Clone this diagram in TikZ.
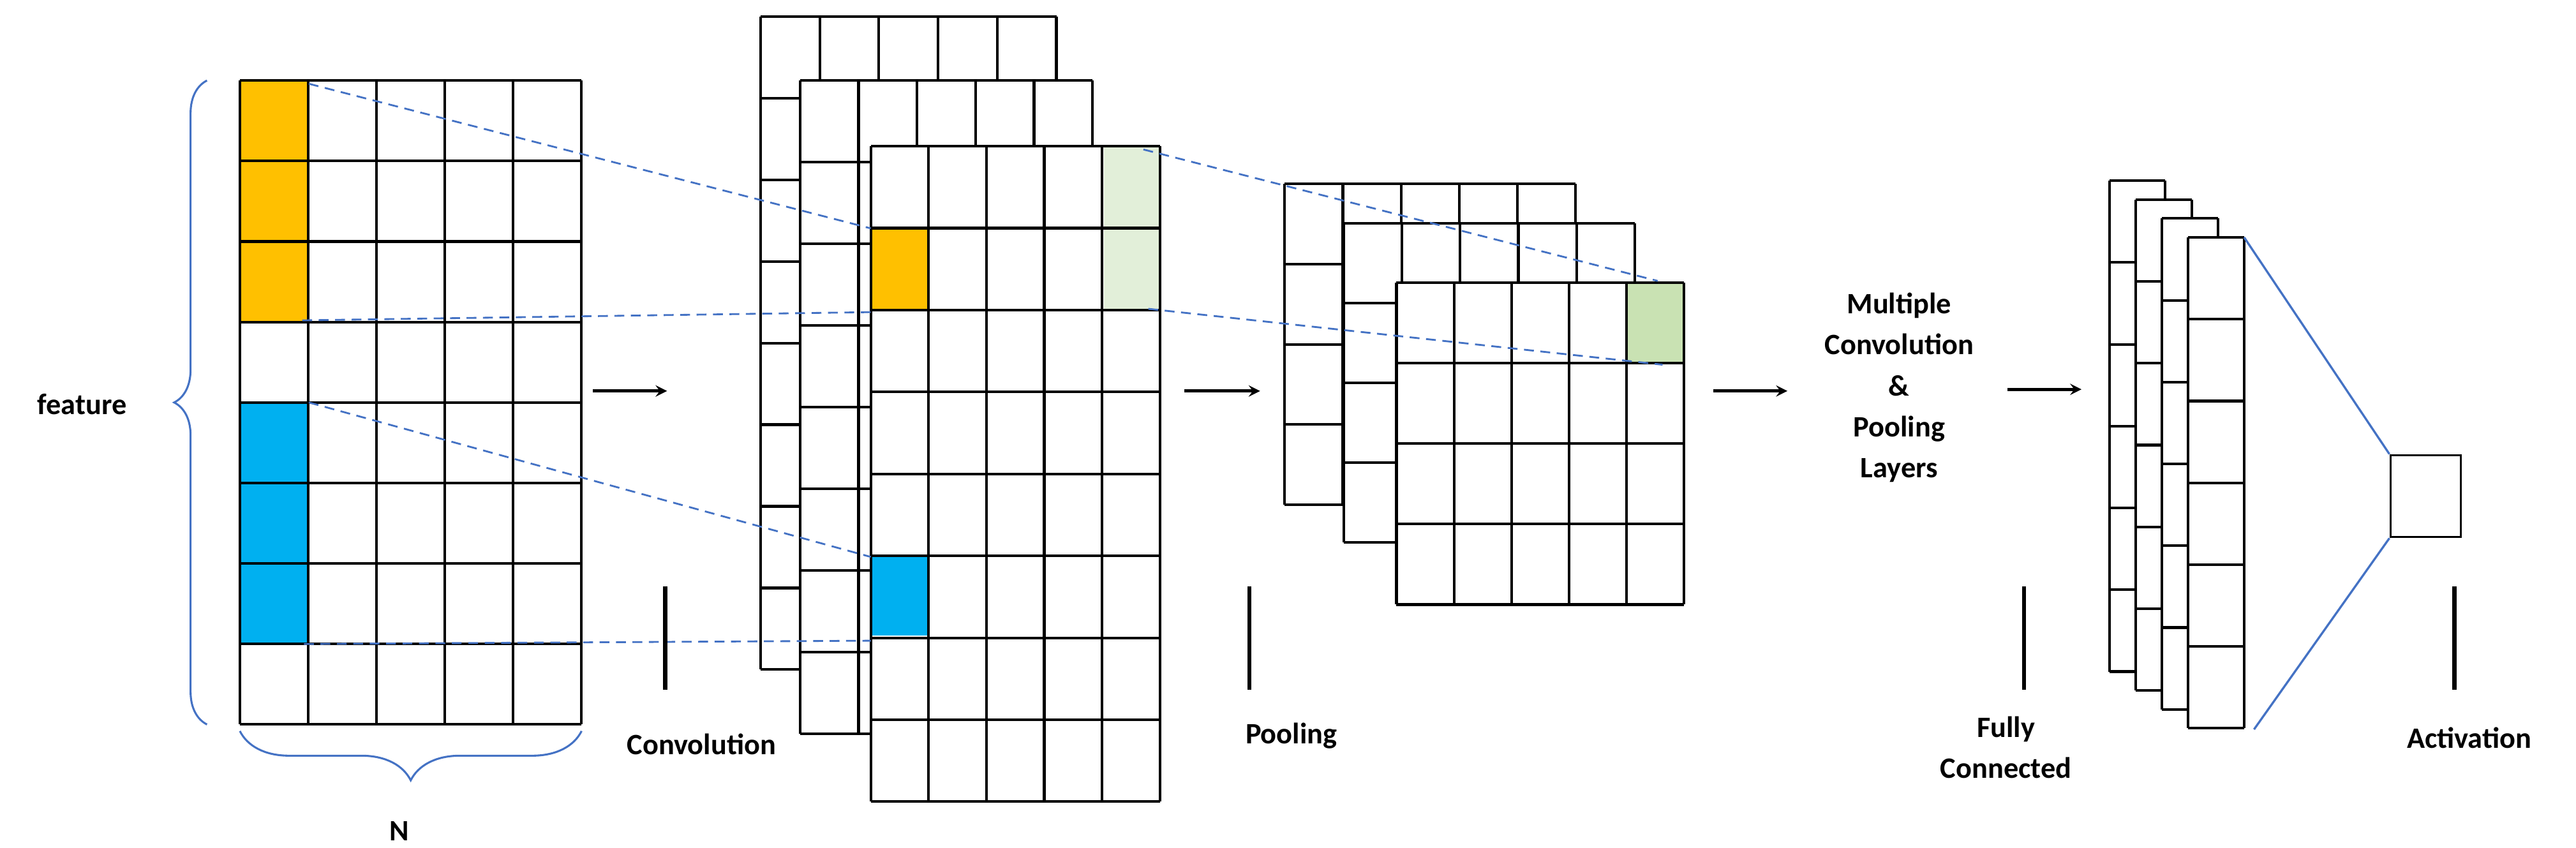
\documentclass[tikz,border=0pt]{standalone}
\usepackage{fontspec}
\setmainfont{Carlito}
\usetikzlibrary{decorations.pathreplacing}
\definecolor{lblue}{HTML}{4472C4}
\definecolor{orng}{HTML}{FFC000}
\definecolor{cyanb}{HTML}{00B0F0}
\definecolor{lgreen}{HTML}{E2EFD9}
\definecolor{mgreen}{HTML}{C9E2B3}
\tikzset{
 gl/.style={line width=1.6pt,black},
 dsh/.style={lblue,line width=1.1pt,dash pattern=on 6pt off 4pt},
 lbl/.style={font=\bfseries\fontsize{18}{25}\selectfont,align=center,inner sep=0pt},
 arr/.style={-stealth,line width=2pt},
 bar/.style={line width=2.6pt},
}
\begin{document}
\begin{tikzpicture}[x=1pt,y=-1pt]
\useasboundingbox (0,0) rectangle (1568,516);
\newcommand{\gridlayer}[6]{%
 \fill[white] (#1,#2) rectangle ({#1+#3*#5},{#2+#4*#6});
 \foreach \i in {0,...,#5}{\draw[gl] ({#1+#3*\i},#2) -- ({#1+#3*\i},{#2+#4*#6});}
 \foreach \j in {0,...,#6}{\draw[gl] (#1,{#2+#4*\j}) -- ({#1+#3*#5},{#2+#4*\j});}
}
% input
\fill[orng] (146,49) rectangle (188,196);
\fill[cyanb] (146,245) rectangle (188,392);
\foreach \i in {0,...,5}{\draw[gl] ({146+41.6*\i},49) -- ({146+41.6*\i},441);}
\foreach \j in {0,...,8}{\draw[gl] (146,{49+49*\j}) -- (354,{49+49*\j});}
\coordinate (inTop) at (188,51); \coordinate (inOb) at (184,195);
\coordinate (inBt) at (188,245); \coordinate (inBb) at (185,392);
% braces
\draw[lblue,line width=1.2pt,decorate,decoration={brace,amplitude=20pt}] (126,441) -- (126,49);
\draw[lblue,line width=1.2pt,decorate,decoration={brace,amplitude=30pt}] (354,445) -- (146,445);
\node[lbl] (feat) at (50,246) {feature};
\node[lbl] (N) at (243,506) {N};
% conv layers
\gridlayer{463}{10}{36}{49.7}{5}{8}
\gridlayer{487}{49}{35.6}{49.7}{5}{8}
\fill[white] (530,89) rectangle (706,488);
\fill[lgreen] (672,89) rectangle (706,189);
\fill[orng] (530,139) rectangle (565,189);
\fill[cyanb] (530,338) rectangle (565,387);
\foreach \i in {0,...,5}{\draw[gl] ({530+35.2*\i},89) -- ({530+35.2*\i},488);}
\foreach \j in {0,...,8}{\draw[gl] (530,{89+49.875*\j}) -- (706,{89+49.875*\j});}
\coordinate (cOt) at (530,139); \coordinate (cOb) at (530,190);
\coordinate (cBt) at (530,339); \coordinate (cBb) at (530,390);
\coordinate (cGt) at (696,91); \coordinate (cGb) at (699,188);
% pool layers
\gridlayer{782}{112}{35.4}{48.8}{5}{4}
\gridlayer{818}{136}{35.4}{48.5}{5}{4}
\fill[white] (850,172) rectangle (1025,368);
\fill[mgreen] (991,172) rectangle (1025,221);
\foreach \i in {0,...,5}{\draw[gl] ({850+35*\i},172) -- ({850+35*\i},368);}
\foreach \j in {0,...,4}{\draw[gl] (850,{172+49*\j}) -- (1025,{172+49*\j});}
\coordinate (pGt) at (1009,171); \coordinate (pGb) at (1012,222);
% dashed
\draw[dsh] (inTop) -- (cOt);
\draw[dsh] (inOb) -- (cOb);
\draw[dsh] (inBt) -- (cBt);
\draw[dsh] (inBb) -- (cBb);
\draw[dsh] (cGt) -- (pGt);
\draw[dsh] (cGb) -- (pGb);
% FC layers
\gridlayer{1284}{110}{34}{49.8}{1}{6}
\gridlayer{1300}{121.5}{34}{49.8}{1}{6}
\gridlayer{1316}{133}{34}{49.8}{1}{6}
\gridlayer{1332}{144.5}{34}{49.8}{1}{6}
\coordinate (fcT) at (1366,144.5); \coordinate (fcB) at (1372,444);
% activation
\node[draw,line width=1.2pt,minimum width=43pt,minimum height=50pt,inner sep=0pt] (act) at (1476.5,302) {};
\draw[lblue,line width=1.3pt] (fcT) -- (act.north west);
\draw[lblue,line width=1.3pt] (act.south west) -- (fcB);
% arrows
\coordinate (a1s) at (361,238); \coordinate (a1e) at (406,238);
\coordinate (a2s) at (721,238); \coordinate (a2e) at (767,238);
\coordinate (a3s) at (1043,238); \coordinate (a3e) at (1088,238);
\coordinate (a4s) at (1222,237); \coordinate (a4e) at (1267,237);
\draw[arr] (a1s) -- (a1e);
\draw[arr] (a2s) -- (a2e);
\draw[arr] (a3s) -- (a3e);
\draw[arr] (a4s) -- (a4e);
% bars
\foreach \x/\n in {405/b1,760.5/b2,1232/b3,1494/b4}{
 \coordinate (\n t) at (\x,357); \coordinate (\n b) at (\x,420);
 \draw[bar] (\n t) -- (\n b);}
% labels
\node[lbl] (conv) at (427,453) {Convolution};
\node[lbl] (pool) at (786,448) {Pooling};
\node[lbl] (mult) at (1156,236) {Multiple\\Convolution\\\&\\Pooling\\Layers};
\node[lbl] (fc) at (1221,455) {Fully\\Connected};
\node[lbl] (actl) at (1503,449) {Activation};
\end{tikzpicture}
\end{document}
